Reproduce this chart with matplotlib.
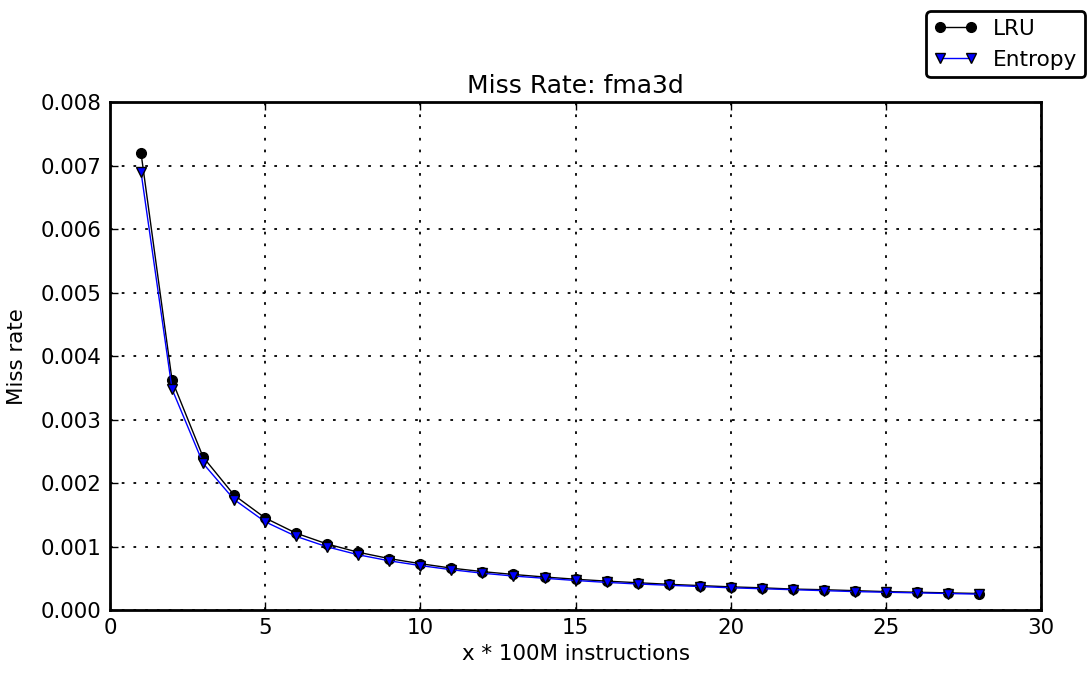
import matplotlib
matplotlib.use("Agg")
import matplotlib.pyplot as plt

x = list(range(1, 29))
lru = [7.2, 3.62, 2.41, 1.81, 1.45, 1.21, 1.04, 0.91, 0.81, 0.73, 0.66, 0.605, 0.56,
       0.52, 0.485, 0.455, 0.43, 0.405, 0.385, 0.365, 0.35, 0.33, 0.32, 0.305, 0.29,
       0.28, 0.27, 0.26]
entropy = [6.9, 3.48, 2.31, 1.74, 1.39, 1.16, 0.995, 0.87, 0.775, 0.70, 0.635, 0.58,
           0.535, 0.50, 0.465, 0.435, 0.41, 0.39, 0.37, 0.35, 0.335, 0.32, 0.305, 0.29,
           0.28, 0.27, 0.26, 0.25]
lru = [v * 1e-3 for v in lru]
entropy = [v * 1e-3 for v in entropy]

plt.rcParams['font.family'] = ['DejaVu Sans']
plt.rcParams['font.size'] = 15.4
plt.rcParams['xtick.direction'] = 'in'
plt.rcParams['ytick.direction'] = 'in'

fig = plt.figure(figsize=(10.89, 6.73), dpi=100)
ax = fig.add_axes([0.101, 0.0936, 0.855, 0.7544])
ax.plot(x, lru, color='black', lw=1.0, marker='o', ms=7, mfc='black', mec='black', label='LRU')
ax.plot(x, entropy, color='blue', lw=1.0, marker='v', ms=7, mfc='blue', mec='black', label='Entropy')
ax.set_xlim(0, 30)
ax.set_ylim(0, 0.008)
ax.set_xticks([0, 5, 10, 15, 20, 25, 30])
ax.set_yticks([0.000, 0.001, 0.002, 0.003, 0.004, 0.005, 0.006, 0.007, 0.008])
ax.set_yticklabels([f"{v:.3f}" for v in ax.get_yticks()])
ax.grid(True, color='black', linestyle=(0, (1.5, 5)), linewidth=1.3)
for s in ax.spines.values():
    s.set_linewidth(2)
ax.tick_params(length=6, width=1, top=True, right=True, pad=6)
ax.set_title('Miss Rate: fma3d', fontsize=18, pad=7)
ax.set_xlabel('x * 100M instructions')
ax.set_ylabel('Miss rate', labelpad=10)
leg = fig.legend(loc='upper right', bbox_to_anchor=(0.9965, 0.983), fancybox=True,
                 framealpha=1, edgecolor='black', borderpad=0.35, handlelength=2.0,
                 numpoints=2, handletextpad=0.75, borderaxespad=0, fontsize=15.6)
leg.get_frame().set_linewidth(2)
fig.savefig('out.png', dpi=100)
